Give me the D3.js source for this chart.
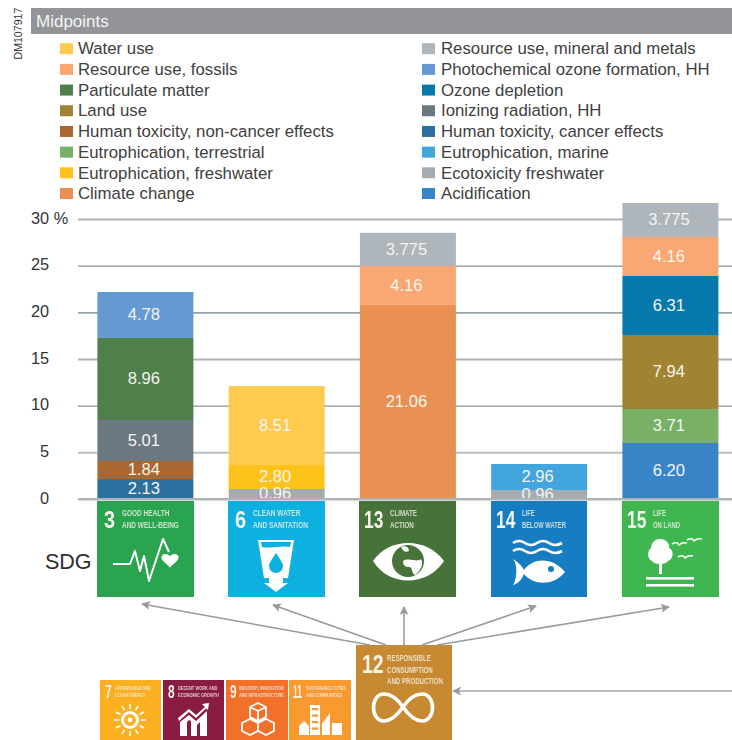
<!DOCTYPE html>
<html><head><meta charset="utf-8">
<script src="https://cdnjs.cloudflare.com/ajax/libs/d3/7.8.5/d3.min.js"></script>
<style>html,body{margin:0;padding:0;background:#fff}svg{display:block}text{font-family:"Liberation Sans",Arial,sans-serif}</style>
</head><body><svg id="c" width="732" height="740"></svg>
<script>
const title = "Midpoints";
const stamp = "DM107917";
const legendLeft = ["Water use","Resource use, fossils","Particulate matter","Land use","Human toxicity, non-cancer effects","Eutrophication, terrestrial","Eutrophication, freshwater","Climate change"];
const legendRight = ["Resource use, mineral and metals","Photochemical ozone formation, HH","Ozone depletion","Ionizing radiation, HH","Human toxicity, cancer effects","Eutrophication, marine","Ecotoxicity freshwater","Acidification"];
const leftColors = ["#fecb4e","#f9a873","#4f7f4b","#a08431","#a96831","#78b166","#fec31a","#ea9052"];
const rightColors = ["#aeb5bb","#6499d2","#0579ab","#6c7880","#2c70a0","#43a5dd","#a6abb0","#3884c6"];

const sdgIds = ["3","6","13","14","15"];
const sdg3Parts = ["Human toxicity, cancer effects","Human toxicity, non-cancer effects","Ionizing radiation, HH","Particulate matter","Photochemical ozone formation, HH"];
const sdg3Heights = [2.14,1.93,4.39,8.79,4.93];
const sdg3Labels = ["2.13","1.84","5.01","8.96","4.78"];
const sdg6Parts = ["Ecotoxicity freshwater","Eutrophication, freshwater","Water use"];
const sdg6Heights = [1.07,2.57,8.46];
const sdg6Labels = ["0.96","2.80","8.51"];
const sdg13Parts = ["Climate change","Resource use, fossils","Resource use, mineral and metals"];
const sdg13Heights = [20.8,4.18,3.54];
const sdg13Labels = ["21.06","4.16","3.775"];
const sdg14Parts = ["Ecotoxicity freshwater","Eutrophication, marine"];
const sdg14Heights = [0.96,2.79];
const sdg14Labels = ["0.96","2.96"];
const sdg15Parts = ["Acidification","Eutrophication, terrestrial","Land use","Ozone depletion","Resource use, fossils","Resource use, mineral and metals"];
const sdg15Heights = [6.0,3.64,7.93,6.32,4.18,3.64];
const sdg15Labels = ["6.20","3.71","7.94","6.31","4.16","3.775"];
const stackParts = [sdg3Parts,sdg6Parts,sdg13Parts,sdg14Parts,sdg15Parts];
const stackHeights = [sdg3Heights,sdg6Heights,sdg13Heights,sdg14Heights,sdg15Heights];
const stackLabels = [sdg3Labels,sdg6Labels,sdg13Labels,sdg14Labels,sdg15Labels];

const yTicks = [0,5,10,15,20,25,30];
const tickColors = ["#adb3b7","#b9bfc3","#84929a","#adb3b7","#98a3aa","#84929a","#adb3b7"];
const tickWidths = [2,2,1.2,2,1.6,1.2,2];

const topTitles = [["GOOD HEALTH","AND WELL-BEING"],["CLEAN WATER","AND SANITATION"],["CLIMATE","ACTION"],["LIFE","BELOW WATER"],["LIFE","ON LAND"]];
const topColors = ["#2ca450","#10b0de","#47733a","#127dc2","#3fb651"];
const lowIds = ["7","8","9","11"];
const lowTitles = [["AFFORDABLE AND","CLEAN ENERGY"],["DECENT WORK AND","ECONOMIC GROWTH"],["INDUSTRY, INNOVATION","AND INFRASTRUCTURE"],["SUSTAINABLE CITIES","AND COMMUNITIES"]];
const lowColors = ["#fbb024","#8a1a42","#f2702c","#f99a2e"];
const mainId = "12";
const mainTitle = ["RESPONSIBLE","CONSUMPTION","AND PRODUCTION"];
const mainColor = "#c78a30";

const colorOf = new Map([...legendLeft.map((n,i)=>[n,leftColors[i]]),...legendRight.map((n,i)=>[n,rightColors[i]])]);
const svg = d3.select("#c");
const defs = svg.append("defs");
defs.append("filter").attr("id","soft").attr("x","-5%").attr("y","-5%").attr("width","110%").attr("height","110%")
  .append("feGaussianBlur").attr("stdDeviation",0.45);
defs.append("marker").attr("id","ah").attr("viewBox","0 0 10 10").attr("refX",9).attr("refY",5)
  .attr("markerWidth",9).attr("markerHeight",9).attr("markerUnits","userSpaceOnUse").attr("orient","auto")
  .append("path").attr("d","M10,5 L0,0 L2.5,5 L0,10 Z").attr("fill","#97999c");

// header
svg.append("text").attr("transform","translate(21.5,59.5) rotate(-90)").attr("font-size",10.6).attr("fill","#333").text(stamp);
svg.append("rect").attr("x",31).attr("y",8).attr("width",701).attr("height",26).attr("fill","#929497");
svg.append("text").attr("x",36).attr("y",27).attr("font-size",17).attr("fill","#f4f4f4").text(title);

// legend
const legY = d3.scalePoint().domain(d3.range(8)).range([48.7,193.5]);
[[legendLeft,leftColors,60,78],[legendRight,rightColors,422,441]].forEach(([names,cols,sx,tx])=>{
  const g = svg.append("g").selectAll("g").data(names).join("g");
  g.append("rect").attr("x",sx).attr("y",(d,i)=>legY(i)-5.5).attr("width",13).attr("height",11).attr("fill",(d,i)=>cols[i]);
  g.append("text").attr("x",tx).attr("y",(d,i)=>legY(i)).attr("dy","0.34em").attr("font-size",16.8).attr("fill","#404040").text(d=>d);
});

// scales
const x = d3.scaleBand().domain(sdgIds).range([97.4,718.4]).paddingInner(0.2686).paddingOuter(0);
const y = d3.scaleLinear().domain([0,30]).range([499,219]);

// axis
const axis = d3.axisLeft(y).tickValues(yTicks).tickSize(654).tickPadding(29).tickFormat(d=>d===30?"30 %":d);
const ag = svg.append("g").attr("transform","translate(732,0)").call(axis);
ag.select(".domain").remove();
ag.selectAll(".tick line").attr("stroke",(d,i)=>tickColors[i]).attr("stroke-width",(d,i)=>tickWidths[i]);
ag.selectAll(".tick text").attr("font-size",16.3).attr("dy","0.26em").attr("fill","#333").style("font-family",'"Liberation Sans",Arial,sans-serif');
ag.selectAll(".tick text").filter(d=>d===30).attr("text-anchor","start").attr("x",-701);

// bars
sdgIds.forEach((id,k)=>{
  let base = 0;
  const segs = stackHeights[k].map((h,i)=>{const s={y0:base,y1:base+h,name:stackParts[k][i],label:stackLabels[k][i]};base+=h;return s;});
  const g = svg.append("g").attr("class","bar");
  g.selectAll("rect").data(segs).join("rect")
    .attr("x",x(id)).attr("width",x.bandwidth())
    .attr("y",d=>y(d.y1)).attr("height",d=>y(d.y0)-y(d.y1))
    .attr("fill",d=>colorOf.get(d.name));
  g.selectAll("text").data(segs).join("text")
    .attr("x",x(id)+x.bandwidth()/2-1.5)
    .attr("y",d=>(y(d.y0)+y(d.y1))/2-0.5)
    .attr("dy","0.35em").attr("text-anchor","middle").attr("font-size",16.6).attr("fill","#f4f4f2").text(d=>d.label);
});
// zero line on top of bars
svg.append("line").attr("x1",78).attr("x2",732).attr("y1",y(0)).attr("y2",y(0)).attr("stroke",tickColors[0]).attr("stroke-width",2);

svg.append("text").attr("x",45).attr("y",569).attr("font-size",21.5).attr("fill","#2f2f2f").text("SDG");

// tiles
const W = "#fff";
function tile(px,py,w,color,id,lines,o,icon){
  const g = svg.append("g").attr("transform",`translate(${px},${py})`).attr("filter","url(#soft)");
  g.append("rect").attr("width",w).attr("height",o.h).attr("fill",color);
  g.append("text").attr("transform",`translate(${o.nx},${o.ny}) scale(${o.nf},1)`).attr("font-size",o.ns).attr("font-weight","bold").attr("fill","#f4f2ea").text(id);
  const ts = g.selectAll("text.t").data(lines).join("text").attr("class","t")
    .attr("font-size",o.ts).attr("font-weight","bold").attr("fill","#f4f2ea").attr("fill-opacity",0.8).text(d=>d);
  const f = o.tw/d3.max(ts.nodes(),n=>n.getComputedTextLength());
  ts.attr("transform",(d,i)=>`translate(${o.tx},${o.ty+i*o.tl}) scale(${f},1)`);
  icon(g.append("g"));
}
const heart = "M0,6 C-3,2 -9,-1 -9,-5 C-9,-9 -3,-10 0,-6 C3,-10 9,-9 9,-5 C9,-1 3,2 0,6 Z";
const icons = [
 g=>{
  g.append("polyline").attr("points","16,63 33,63 38,50 43,70 47,55 52,80 66,38 72,51").attr("fill","none").attr("stroke",W).attr("stroke-width",2).attr("stroke-linejoin","round");
  g.append("path").attr("d",heart).attr("transform","translate(73,61) scale(0.95)").attr("fill",W);
 },
 g=>{
  g.append("path").attr("d","M30,39 H66 L60,77 H55 V82 H60 L48,91 L36,82 H41 V77 H36 Z").attr("fill",W);
  g.append("path").attr("d","M33,41 H63 L62,46 C55,44 42,48 34,46 Z").attr("fill",topColors[1]);
  g.append("path").attr("d","M48,52 C52,58 55,62 55,65 A7,7 0 0 1 41,65 C41,62 44,58 48,52 Z").attr("fill",topColors[1]);
 },
 g=>{
  g.append("path").attr("d","M14,60 C30,36 68,36 85,60 C68,86 30,86 14,60 Z").attr("fill",W);
  g.append("circle").attr("cx",49).attr("cy",60).attr("r",16).attr("fill",topColors[2]);
  g.append("path").attr("d","M44,60 C50,56 58,62 62,58 C65,62 62,70 56,74 C52,72 54,66 50,66 C46,66 44,64 44,60 Z M42,46 C46,44 50,46 50,50 C46,52 44,50 42,46 Z").attr("fill",W);
 },
 g=>{
  [42,50].forEach(w=>g.append("path").attr("d",`M22,${w} q6,-4 12,0 t12,0 t12,0 t13,0`).attr("fill","none").attr("stroke",W).attr("stroke-width",2.6));
  g.append("path").attr("d","M22,58 C28,62 31,65 33,69 C42,56 62,56 74,71 C62,86 42,84 33,73 C31,78 28,82 22,84 C26,78 27,64 22,58 Z").attr("fill",W);
  g.append("circle").attr("cx",60).attr("cy",68).attr("r",3).attr("fill",topColors[3]);
 },
 g=>{
  g.append("path").attr("d","M38,38 C45,38 48,44 47,47 C52,49 52,58 46,60 C44,64 32,64 30,60 C25,58 25,50 29,47 C29,43 32,38 38,38 Z").attr("fill",W);
  g.append("rect").attr("x",37).attr("y",62).attr("width",3).attr("height",11).attr("fill",W);
  [76,83].forEach(v=>g.append("rect").attr("x",24).attr("y",v).attr("width",48).attr("height",2.6).attr("fill",W));
  [[50,43],[65,39],[56,56]].forEach(([a,b])=>g.append("path").attr("d",`M${a},${b} q5,-3 7,1 q3,-3 8,-2`).attr("fill","none").attr("stroke",W).attr("stroke-width",1.5));
 }
];
const topWide = [57,55,27,44,27];
sdgIds.forEach((id,i)=>{
  tile(Math.floor(x(id)),501,i===3?96:97,topColors[i],id,topTitles[i],
    {h:96,nx:i<2?7:5,ny:27,ns:23.5,nf:i<2?0.85:0.74,tx:i<2?25:31,ty:15,tl:11.5,ts:9,tw:topWide[i]},icons[i]);
});

const lowIcons = [
 g=>{
  g.append("circle").attr("cx",30).attr("cy",40).attr("r",7.5).attr("fill","none").attr("stroke",W).attr("stroke-width",3);
  g.append("circle").attr("cx",30).attr("cy",40).attr("r",2.4).attr("fill",W);
  d3.range(12).forEach(a=>{const t=a*Math.PI/6;g.append("line").attr("x1",30+11*Math.cos(t)).attr("y1",40+11*Math.sin(t)).attr("x2",30+16*Math.cos(t)).attr("y2",40+16*Math.sin(t)).attr("stroke",W).attr("stroke-width",1.6);});
 },
 g=>{
  g.append("path").attr("d","M17,42 L26,35 L33,41 L44,31 V56 H37 V42 L34,45 V56 H28 V41 L26,40 L24,42 V56 H17 Z").attr("fill",W);
  g.append("path").attr("d","M15,38 L26,29 L33,35 L42,27 L39,24 L46,23 L45,30 L43,28.5 L33,38 L26,32 L16,41 Z").attr("fill",W);
 },
 g=>{
  g.append("path").attr("d","M32,23 L40,27 V37 L32,41 L24,37 V27 Z M32,31 L24,27 M32,31 L40,27 M32,31 V41 M24,39 L32,43 V51 L24,55 L16,51 V43 Z M40,39 L48,43 V51 L40,55 L32,51 V43 Z").attr("fill","none").attr("stroke",W).attr("stroke-width",1.8);
 },
 g=>{
  g.append("rect").attr("x",21).attr("y",25).attr("width",10).attr("height",30).attr("fill",W);
  g.append("path").attr("d","M10,55 V46 L15,41 L20,46 V55 Z").attr("fill",W);
  g.append("path").attr("d","M33,55 V44 L41,33 V55 Z").attr("fill",W);
  g.append("rect").attr("x",43).attr("y",43).attr("width",10).attr("height",12).attr("fill",W);
  d3.range(4).forEach(r=>g.append("rect").attr("x",23).attr("y",28+r*6.5).attr("width",6).attr("height",2.2).attr("fill",lowColors[3]));
 }
];
const lowX = [100,163,226,289];
const lowWidths = [61,61,62,62];
const lowWide = [36,41,45,40];
const lowTextX = [15,15,13,17];
lowIds.forEach((id,i)=>tile(lowX[i],680,lowWidths[i],lowColors[i],id,lowTitles[i],
  {h:60,nx:i>=2?4:5,ny:18,ns:18,nf:i===3?0.47:0.66,tx:lowTextX[i],ty:9.5,tl:7.5,ts:6,tw:lowWide[i]},lowIcons[i]));
tile(356,645,96,mainColor,mainId,mainTitle,{h:95,nx:6,ny:28,ns:26,nf:0.75,tx:31,ty:16,tl:11.5,ts:8.8,tw:56},g=>{
  g.append("path").attr("d","M47,62 C40,52 33,49 28,49 C14,49 14,76 28,76 C33,76 40,72 47,62 C54,52 60,49 66,49 C80,49 80,76 66,76 C60,76 54,72 47,62")
    .attr("fill","none").attr("stroke",W).attr("stroke-width",3.6);
});

// arrows, from the top of tile 12 to each tile above it
const arrowStarts = [370,386,404,422,437];
const arrowTips = [[142,604],[273,605],[404,607],[536,606],[669,607]];
svg.append("g").selectAll("line").data(arrowTips).join("line")
  .attr("x1",(d,i)=>arrowStarts[i]).attr("y1",645).attr("x2",d=>d[0]).attr("y2",d=>d[1])
  .attr("stroke","#97999c").attr("stroke-width",1.5).attr("marker-end","url(#ah)");
svg.append("line").attr("x1",732).attr("y1",691).attr("x2",453).attr("y2",691).attr("stroke","#a3a5a8").attr("stroke-width",1.6).attr("marker-end","url(#ah)");
</script></body></html>
